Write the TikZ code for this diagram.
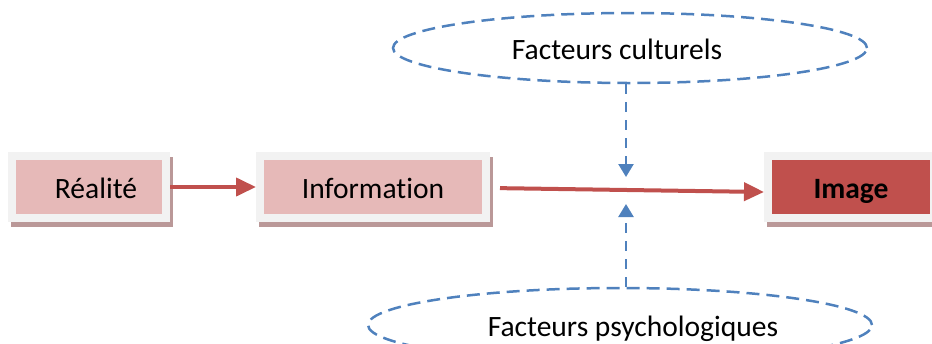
\documentclass[tikz,border=0pt]{standalone}
\usepackage{fontspec}
\setmainfont[Ligatures=NoCommon]{Carlito}
\usetikzlibrary{shapes.geometric, shadows, arrows.meta}

\definecolor{pinkfill}{HTML}{E6B9B8}
\definecolor{framegray}{HTML}{F2F2F2}
\definecolor{shadowred}{RGB}{186,152,152}
\definecolor{darkred}{HTML}{C0504D}
\definecolor{dashblue}{HTML}{4F81BD}

\begin{document}
\begin{tikzpicture}[every node/.style={font=\fontsize{8.4}{10}\selectfont, text height=.24cm, text depth=.02cm},
    box/.style={draw=framegray, line width=.08cm, fill=pinkfill, minimum height=.62cm,
        general shadow={draw=shadowred, fill=shadowred, line width=.08cm, shadow xshift=.03cm, shadow yshift=-.05cm}},
    factor/.style={ellipse, draw=dashblue, line width=.025cm, dash pattern=on .13cm off .07cm},
    redarrow/.style={-{Triangle[length=.2cm, width=.18cm]}, draw=darkred, line width=.04cm},
    bluearrow/.style={-{Triangle[length=.13cm, width=.15cm]}, draw=dashblue, line width=.025cm, dash pattern=on .1cm off .08cm}]
    \useasboundingbox (0,0) rectangle (9.32,3.43);

    \node[box, minimum width=1.54cm] (real) at (0.89,1.56) {\hspace*{.14cm}Réalité};
    \node[box, minimum width=2.26cm] (info) at (3.73,1.56) {Information};
    \node[box, minimum width=1.66cm, fill=darkred, font=\fontsize{8.4}{10}\selectfont\bfseries] (img) at (8.51,1.56) {Image};

    \node[factor, minimum width=4.74cm, minimum height=.70cm] (cult) at (6.30,2.95) {Facteurs culturels\hspace*{.26cm}};
    \node[factor, minimum width=5.04cm, minimum height=.74cm] (psy) at (6.20,0.18) {\hspace*{.26cm}Facteurs psychologiques};

    \coordinate (tipA) at (6.26,1.66);
    \coordinate (tipB) at (6.26,1.39);

    \draw[redarrow] (real.east) -- (info.west);
    \draw[redarrow, shorten <=.1cm] ([yshift=-.01cm]info.east) -- ([yshift=-.05cm]img.west);

    \draw[bluearrow] (cult.south -| tipA) -- (tipA);
    \draw[bluearrow] (psy.north -| tipB) -- (tipB);
\end{tikzpicture}
\end{document}
